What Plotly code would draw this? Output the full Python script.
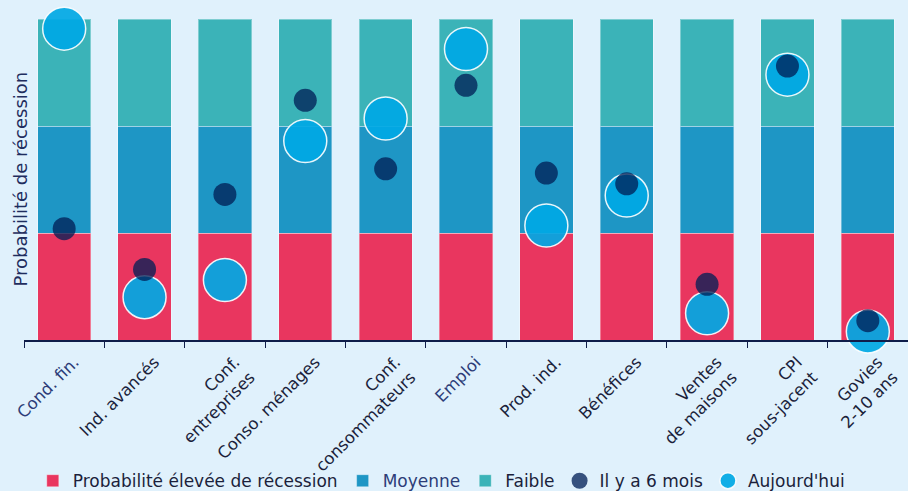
import plotly.graph_objects as go

categories = ["Cond. fin.", "Ind. avancés", "Conf.<br>entreprises", "Conso. ménages",
              "Conf.<br>consommateurs", "Emploi", "Prod. ind.", "Bénéfices",
              "Ventes<br>de maisons", "CPI<br>sous-jacent", "Govies<br>2-10 ans"]
highlighted = ["Cond. fin.", "Emploi"]

# band heights (each tier = one unit on a 0-3 scale)
band_eleve = [1] * 11
band_moyenne = [1] * 11
band_faible = [1] * 11

# position on the recession-probability scale (0 = high, 3 = low)
il_y_a_6_mois = [1.04, 0.66, 1.36, 2.24, 1.60, 2.38, 1.56, 1.46, 0.52, 2.56, 0.18]
aujourdhui = [2.91, 0.40, 0.56, 1.86, 2.07, 2.72, 1.07, 1.35, 0.25, 2.48, 0.08]

NAVY = "#0f1d4a"
TXT = "#1b1f3b"
HL = "#2d3d78"
BG = "#e0f1fc"
FONT = "DejaVu Sans"

ticktext = [f"<span style='color:{HL}'>{c}</span>" if c in highlighted else c for c in categories]
xs = list(range(len(categories)))

fig = go.Figure()
bar_line = dict(color="rgba(255,255,255,0.35)", width=1)
fig.add_bar(x=xs, y=band_eleve, name="Probabilité élevée de récession",
            marker=dict(color="#e9365f", line=bar_line), legendrank=1)
fig.add_bar(x=xs, y=band_moyenne, name=f"<span style='color:{HL}'>Moyenne</span>",
            marker=dict(color="#1e96c5", line=bar_line), legendrank=2)
fig.add_bar(x=xs, y=band_faible, name="Faible",
            marker=dict(color="#3bb3b8", line=bar_line), legendrank=3)
fig.add_scatter(x=xs, y=aujourdhui, mode="markers", name="Aujourd'hui", cliponaxis=False,
                marker=dict(size=43, color="rgba(0,168,228,0.92)",
                            line=dict(color="rgba(255,255,255,0.9)", width=1.5)),
                legendrank=5)
fig.add_scatter(x=xs, y=il_y_a_6_mois, mode="markers", name="Il y a 6 mois", cliponaxis=False,
                marker=dict(size=23, color="rgba(0,30,85,0.76)", line=dict(width=0)),
                legendrank=4)

fig.update_layout(
    width=908, height=491,
    margin=dict(l=24, r=0, t=19, b=151, autoexpand=False),
    paper_bgcolor=BG, plot_bgcolor=BG,
    barmode="stack", bargap=0.337,
    font=dict(family=FONT, size=16, color=TXT),
    showlegend=True,
    legend=dict(orientation="h", traceorder="normal", xref="container", yref="container",
                x=0.486, xanchor="center", y=0.02, yanchor="middle",
                font=dict(size=17, color=TXT),
                bgcolor="rgba(0,0,0,0)", itemwidth=30, tracegroupgap=0),
    xaxis=dict(type="linear", range=[-0.5, 10.5], tickmode="array",
               tickvals=xs, ticktext=ticktext, tickangle=-45,
               showgrid=False, zeroline=False, showline=True, linecolor=NAVY, linewidth=2,
               ticks="", tickfont=dict(size=16.5, color=TXT), ticklabelshift=10,
               ticklabelstandoff=4, fixedrange=True, automargin=False),
    yaxis=dict(range=[0, 3], showgrid=False, zeroline=False, showticklabels=False,
               showline=False, ticks="", fixedrange=True, automargin=False),
    annotations=[dict(text="Probabilité de récession", xref="paper", yref="paper",
                      x=-4/884, y=0.5, xanchor="center", yanchor="middle", textangle=-90,
                      showarrow=False, font=dict(size=18, color="#1f2d5e"))],
)

# boundary tick marks between categories
fig.update_xaxes(minor=dict(tickmode="array", tickvals=[i - 0.5 for i in range(len(xs) + 1)],
                            ticks="outside", ticklen=6, tickcolor=NAVY, tickwidth=1, showgrid=False))

fig.write_html("out.html", config={"displayModeBar": False},
               post_script="document.body.style.margin='0';")
